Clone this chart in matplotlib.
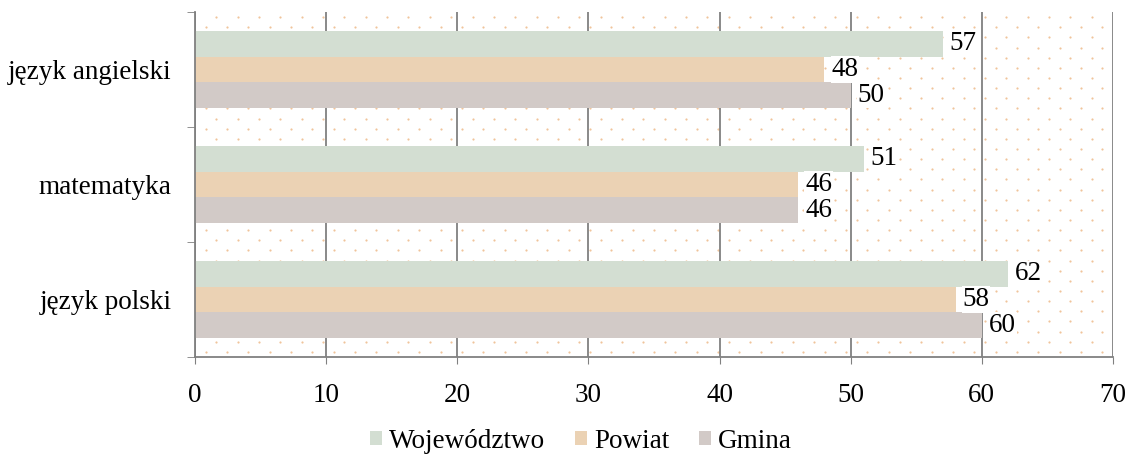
import numpy as np
import matplotlib.pyplot as plt
from matplotlib.patches import Patch

plt.rcParams['font.family'] = ['Liberation Serif', 'DejaVu Serif']

# data
subjects = ['język polski', 'matematyka', 'język angielski']
series = ['Województwo', 'Powiat', 'Gmina']
wojewodztwo = [62, 51, 57]
powiat = [58, 46, 48]
gmina = [60, 46, 50]
colors = ['#D3DED2', '#EBD2B4', '#D2CAC7']

fig = plt.figure(figsize=(11.28, 4.59), dpi=100)
ax = fig.add_axes([195 / 1128, 1 - 357 / 459, 918 / 1128, 345 / 459])

# dotted background
cols = np.arange(0.5, 43) / 43
rows = np.arange(0.5, 34) / 34
for i, yy in enumerate(rows):
    xs = cols + (0.5 / 43 if i % 2 else 0)
    xs = xs[xs < 1]
    ax.scatter(xs, np.full(len(xs), yy), s=2.5, color='#F0C49A', linewidths=0,
               transform=ax.transAxes, zorder=0)

y = np.arange(len(subjects))
h = 0.222
vals = [wojewodztwo, powiat, gmina]
for k, (name, v, c) in enumerate(zip(series, vals, colors)):
    pos = y + h * (1 - k)
    ax.barh(pos, v, height=h, color=c, label=name, zorder=3)
    for p, val in zip(pos, v):
        ax.annotate(str(val), (val, p), xytext=(5, 0), textcoords='offset points',
                    va='center', ha='left', fontsize=19.5, zorder=4,
                    bbox=dict(facecolor='white', edgecolor='none', pad=0.5))

ax.set_xlim(0, 70)
ax.set_ylim(-0.5, 2.5)
ax.set_xticks(np.arange(0, 71, 10))
ax.tick_params(axis='x', labelsize=19.5, length=5, color='#808080', pad=14)
ax.set_yticks(y)
ax.set_yticklabels(subjects, fontsize=19.5)
ax.set_yticks([-0.5, 0.5, 1.5, 2.5], minor=True)
ax.tick_params(axis='y', which='major', length=0, pad=17)
ax.tick_params(axis='y', which='minor', length=6, color='#808080')
ax.grid(axis='x', color='#808080', linewidth=1.3, zorder=1)
ax.set_axisbelow(True)
for s in ['top', 'right']:
    ax.spines[s].set_visible(False)
for s in ['left', 'bottom']:
    ax.spines[s].set_color('#808080')
    ax.spines[s].set_linewidth(1.3)
    ax.spines[s].set_zorder(5)

handles = [Patch(facecolor=c, label=n) for n, c in zip(series, colors)]
fig.legend(handles=handles, loc='center', bbox_to_anchor=(581 / 1128, 1 - 441 / 459),
           ncol=3, frameon=False, fontsize=19.5, handlelength=0.45, handleheight=0.45,
           handletextpad=0.25, columnspacing=1.1)

fig.savefig('out.png', dpi=100)
